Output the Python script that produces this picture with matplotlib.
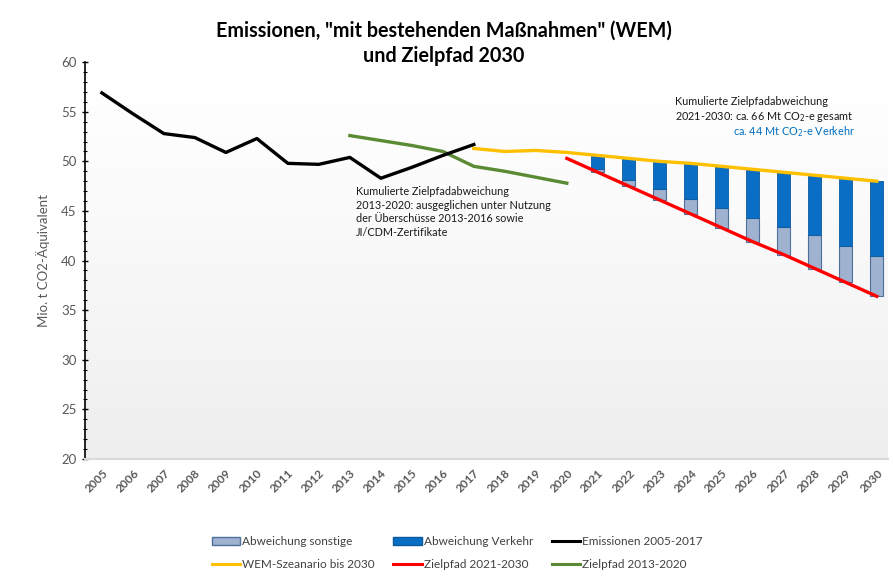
import numpy as np
import matplotlib
matplotlib.use("Agg")
import matplotlib.pyplot as plt
from matplotlib.patches import Patch
from matplotlib.lines import Line2D
from matplotlib.colors import LinearSegmentedColormap

plt.rcParams['font.family'] = ['Lato', 'DejaVu Sans']

years = list(range(2005, 2031))
years_emis = list(range(2005, 2018))
emissionen = [56.9, 54.8, 52.8, 52.4, 50.9, 52.3, 49.8, 49.7, 50.4, 48.3, 49.4, 50.6, 51.7]
years_z1320 = list(range(2013, 2021))
zielpfad_1320 = [52.6, 52.1, 51.6, 51.0, 49.5, 49.0, 48.4, 47.8]
years_wem = list(range(2017, 2031))
wem = [51.3, 51.0, 51.1, 50.9, 50.6, 50.3, 50.0, 49.8, 49.5, 49.2, 48.9, 48.6, 48.3, 48.0]
years_z2130 = list(range(2020, 2031))
zielpfad_2130 = [50.3, 48.9, 47.5, 46.1, 44.7, 43.3, 41.9, 40.6, 39.2, 37.8, 36.4]
years_bars = list(range(2021, 2031))
abw_sonstige = [0.3, 0.6, 1.1, 1.5, 2.0, 2.35, 2.8, 3.4, 3.7, 4.1]
abw_verkehr = [1.4, 2.2, 2.8, 3.6, 4.2, 4.95, 5.5, 6.0, 6.8, 7.5]

def pos(ys):
    return [years.index(y) for y in ys]

fig = plt.figure(figsize=(8.93, 5.81), dpi=100)
ax = fig.add_axes([0.095, 0.21, 0.899, 0.683])
ax.set_xlim(-0.55, 25.35)
ax.set_ylim(20, 60)

# gradient background (white at top, light grey at bottom)
grad = np.linspace(0, 1, 256).reshape(-1, 1) ** 1.3
cmap = LinearSegmentedColormap.from_list('bg', ['#ffffff', '#eeeeee'])
ax.imshow(grad, aspect='auto', cmap=cmap, extent=[-0.55, 25.35, 20, 60], origin='upper', zorder=0)

bx = pos(years_bars)
zb = zielpfad_2130[1:]
ax.bar(bx, abw_sonstige, width=0.42, bottom=zb, color='#9fb2cf', edgecolor='#4f6f9c', linewidth=0.8, zorder=2)
ax.bar(bx, abw_verkehr, width=0.42, bottom=np.array(zb) + np.array(abw_sonstige), color='#0a6ec4',
       edgecolor='#0a5aa0', linewidth=0.6, zorder=2)

ax.plot(pos(years_emis), emissionen, color='black', lw=2.4, zorder=4)
ax.plot(pos(years_z1320), zielpfad_1320, color='#5b8a34', lw=2.4, zorder=3)
ax.plot(pos(years_wem), wem, color='#ffc000', lw=2.4, zorder=3)
ax.plot(pos(years_z2130), zielpfad_2130, color='#ff0000', lw=2.4, zorder=3)

ax.set_xticks(range(len(years)))
ax.set_xticklabels([str(y) for y in years], rotation=45, ha='right', rotation_mode='anchor',
                   fontsize=8.5, color='#595959', fontweight='bold')
ax.tick_params(axis='x', length=0, pad=6)
ax.set_yticks(range(20, 61, 5))
ax.set_yticks(range(20, 61, 1), minor=True)
ax.tick_params(axis='y', which='major', length=5, width=1, color='black', labelsize=9.5,
               labelcolor='#595959', direction='inout')
ax.tick_params(axis='y', which='minor', length=3, width=0.8, color='black', direction='inout')
for s in ['top', 'right']:
    ax.spines[s].set_visible(False)
ax.spines['left'].set_color('black')
ax.spines['left'].set_linewidth(1.2)
ax.spines['bottom'].set_color('#d9d9d9')
ax.spines['bottom'].set_linewidth(1.5)
ax.set_ylabel('Mio. t CO2-Äquivalent', fontsize=9.5, color='#595959', labelpad=8)

fig.text(0.497, 0.947, 'Emissionen, "mit bestehenden Maßnahmen" (WEM)', ha='center', va='center',
         fontsize=14.2, fontweight='bold', color='#000000')
fig.text(0.497, 0.903, 'und Zielpfad 2030', ha='center', va='center', fontsize=14.2, fontweight='bold')

fig.text(356/893, 1 - 186/581, 'Kumulierte Zielpfadabweichung\n2013-2020: ausgeglichen unter Nutzung\nder Überschüsse 2013-2016 sowie\nJI/CDM-Zertifikate',
         ha='left', va='top', fontsize=7.8, color='#1a1a1a', linespacing=1.3)
fig.text(675/893, 1 - 96/581, 'Kumulierte Zielpfadabweichung\n2021-2030: ca. 66 Mt CO$_2$-e gesamt',
         ha='left', va='top', fontsize=7.8, color='#1a1a1a', linespacing=1.3)
fig.text(733/893, 1 - 124/581, 'ca. 44 Mt CO$_2$-e Verkehr', ha='left', va='top', fontsize=7.8, color='#0070c0')

handles = [
    Patch(facecolor='#9fb2cf', edgecolor='#4f6f9c'),
    Line2D([], [], color='#ffc000', lw=2.2),
    Patch(facecolor='#0a6ec4', edgecolor='#0a5aa0'),
    Line2D([], [], color='#ff0000', lw=2.2),
    Line2D([], [], color='black', lw=2.2),
    Line2D([], [], color='#5b8a34', lw=2.2),
]
labels = ['Abweichung sonstige', 'WEM-Szeanario bis 2030', 'Abweichung Verkehr', 'Zielpfad 2021-2030',
          'Emissionen 2005-2017', 'Zielpfad 2013-2020']
leg = fig.legend(handles, labels, ncol=3, loc='center', bbox_to_anchor=(0.512, 0.048), frameon=False,
                 fontsize=8.5, handlelength=2.4, handleheight=0.6, columnspacing=1.6, handletextpad=0.15,
                 labelspacing=1.0)
for t in leg.get_texts():
    t.set_color('#404040')

fig.savefig('out.png', dpi=100)
